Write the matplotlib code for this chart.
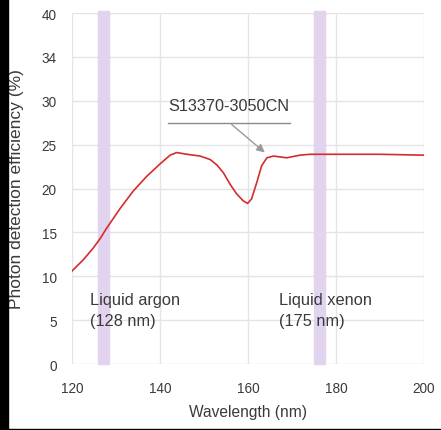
import numpy as np
import matplotlib.pyplot as plt
from matplotlib.patches import Rectangle

plt.rcParams['font.family'] = ['Liberation Sans', 'DejaVu Sans']

# curve
wavelength = [120, 122.6, 124.8, 126.4, 127.9, 130.9, 133.9, 137.0, 140.0, 142.3, 143.8,
              146.1, 149.1, 151.4, 152.9, 154.4, 155.9, 157.4, 158.9, 159.9, 160.8, 162.0,
              163.1, 164.3, 165.8, 168.8, 171.8, 174.1, 180, 185, 190, 195, 200]
pde = [10.6, 11.9, 13.2, 14.3, 15.5, 17.7, 19.7, 21.4, 22.8, 23.8, 24.1,
       23.9, 23.7, 23.3, 22.7, 21.8, 20.5, 19.4, 18.6, 18.3, 18.8, 20.7,
       22.6, 23.5, 23.7, 23.5, 23.8, 23.9, 23.9, 23.9, 23.9, 23.85, 23.8]

bands = [(125.8, 128.4), (174.9, 177.5)]
band_labels = ['Liquid argon\n(128 nm)', 'Liquid xenon\n(175 nm)']
band_label_x = [124.2, 167.0]

yticks = [0, 5, 10, 15, 20, 25, 30, 35, 40]
ytick_labels = ['0', '5', '10', '15', '20', '25', '30', '34', '40']
xticks = [120, 140, 160, 180, 200]

txt = '#3a3a3a'
fig = plt.figure(figsize=(4.41, 4.31), dpi=100)
ax = fig.add_axes([0.1633, 0.1531, 0.7982, 0.8144])

for (a, b) in bands:
    ax.axvspan(a, b, ymin=0.0, ymax=1.005, color='#e2d3ee', zorder=1, clip_on=False)

ax.plot(wavelength, pde, color='#d62b2b', linewidth=1.2, zorder=3, solid_joinstyle='round')

ax.set_xlim(120, 200)
ax.set_ylim(0, 40)
ax.set_xticks(xticks)
ax.set_yticks(yticks)
ax.set_yticklabels(ytick_labels)
ax.grid(True, color='#e4e4e4', linewidth=1.0, zorder=0)
ax.set_axisbelow(True)
for s in ax.spines.values():
    s.set_visible(False)
ax.tick_params(length=0, labelsize=9.8, colors=txt)
ax.tick_params(axis='x', pad=12)
ax.tick_params(axis='y', pad=11)

ax.set_xlabel('Wavelength (nm)', fontsize=11.2, color=txt, labelpad=7)
ax.set_ylabel('Photon detection efficiency (%)', fontsize=12.5, color=txt, labelpad=13)

for x, lab in zip(band_label_x, band_labels):
    ax.text(x, 6.15, lab, fontsize=11.8, color=txt, va='center', ha='left', linespacing=1.45, zorder=4)

ax.text(141.8, 29.5, 'S13370-3050CN', fontsize=11.7, color=txt, va='center', ha='left', zorder=4)
ax.plot([141.8, 169.5], [27.5, 27.5], color='#8a8a8a', linewidth=1.0, zorder=4)
ax.annotate('', xy=(164.3, 23.9), xytext=(155.8, 27.5),
            arrowprops=dict(arrowstyle='-|>', color='#9a9a9a', lw=1.0, mutation_scale=12), zorder=4)

# black border strips of the scan
fig.patches.append(Rectangle((0, 0), 8 / 441, 1, transform=fig.transFigure, color='black'))
fig.patches.append(Rectangle((0, 0), 1, 1.5 / 431, transform=fig.transFigure, color='black'))

fig.savefig('out.png', dpi=100)
